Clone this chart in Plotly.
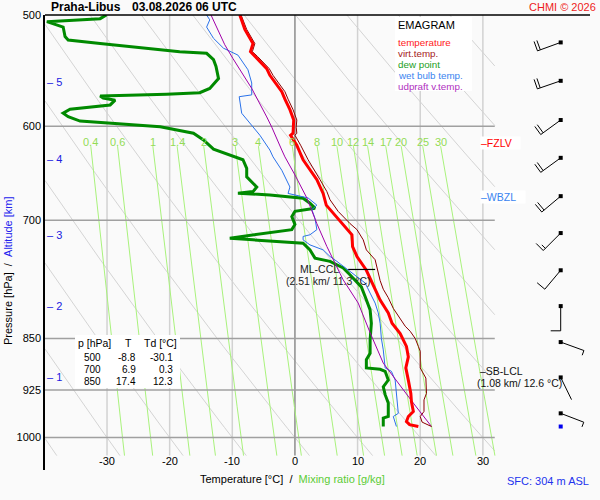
import math
import numpy as np
import plotly.graph_objects as go

# ---------------- data ----------------
temp_p = [500, 512, 524, 531, 535, 546, 552, 567, 574, 584, 594, 601, 607, 609, 619, 631, 634, 655, 670, 683,
          694, 707, 717, 731, 743, 760, 774, 786, 798, 815, 829, 843, 852, 861, 876, 892, 910, 930, 943, 958,
          966, 974, 979, 982]
temp_t = [-8.8, -8.0, -6.7, -7.1, -6.4, -4.5, -4.0, -2.1, -1.6, -0.8, -0.2, -0.3, -0.3, -0.7, 0.3, 1.1, 1.3, 3.5, 4.5, 5.0,
          6.4, 8.0, 9.1, 9.2, 9.9, 11.4, 12.2, 13.0, 13.6, 14.9, 15.5, 16.8, 17.3, 17.8, 18.1, 17.7, 18.1, 18.5, 18.6, 18.9,
          18.1, 17.8, 18.3, 19.7]

virt_p = [500, 512, 524, 531, 535, 546, 552, 567, 574, 584, 594, 601, 607, 609, 619, 631, 634, 655, 668, 677,
          690, 704, 711, 723, 735, 747, 773, 784, 795, 809, 823, 833, 840, 850, 861, 868, 892, 903, 907, 930,
          940, 958, 966, 975, 982]
virt_t = [-8.6, -7.7, -6.4, -6.8, -6.0, -4.1, -3.5, -1.6, -1.1, -0.3, 0.3, 0.2, 0.3, 0.0, 0.9, 1.8, 2.1, 4.0, 5.1, 5.6,
          6.9, 8.8, 9.9, 10.9, 11.4, 12.8, 13.6, 14.1, 14.9, 15.7, 16.8, 17.6, 18.4, 19.2, 19.7, 20.0, 20.0, 20.6, 20.9, 21.0,
          20.6, 20.6, 20.0, 20.3, 21.8]

dew_p = [500, 503, 505.5, 510, 518, 521, 524, 529.5, 531, 532.4, 538, 544, 555, 564, 568, 569.4, 571, 573, 575, 579.5,
         583.6, 587.4, 590.7, 595, 600.5, 607, 613.7, 623, 629, 634, 643, 652, 663, 668, 669.7, 671.6, 675.3, 680.8, 686.4, 690,
         696, 705, 711, 713, 717, 721, 723, 727, 735, 745, 749, 757, 765, 772, 781, 793.5, 811, 829, 852, 871,
         880, 892, 894, 897, 910, 920, 932, 945, 966, 968.5, 982]
dew_t = [-30.1, -31.1, -39.6, -37.0, -36.7, -36.2, -31.1, -20.5, -18.4, -14.1, -13.0, -12.6, -12.2, -13.6, -15.2, -20.5, -31.1, -30.6, -28.7, -29.5,
         -35.9, -37.0, -36.2, -34.3, -21.5, -16.2, -14.6, -13.0, -10.4, -8.3, -7.7, -7.7, -6.1, -6.7, -9.1, -4.0, 1.3, 2.4, 3.2, 0.0,
         -0.5, 0.0, -0.5, -2.4, -6.7, -10.4, -6.7, 1.3, 2.4, 3.2, 5.6, 7.7, 8.7, 9.6, 10.6, 11.2, 12.0, 12.2, 12.0, 12.0,
         11.4, 11.4, 13.6, 14.4, 14.9, 14.1, 14.4, 14.9, 14.9, 14.1, 14.1]

wet_p = [500, 504, 510, 519.5, 528, 534, 547, 559, 570, 571.7, 587.4, 599, 609, 624, 631, 645, 652, 663, 670, 675,
         683, 688, 698, 711, 717, 719, 723, 729, 735, 743, 749, 755, 764, 776, 789, 802, 815, 829, 850, 866,
         892, 897, 910, 932, 961, 966, 982]
wet_t = [-14.1, -13.6, -14.1, -13.0, -11.4, -9.1, -7.5, -6.9, -6.9, -8.9, -8.5, -6.9, -5.6, -4.0, -3.5, -2.1, -1.6, -0.8, -1.1, 2.1,
         3.5, 2.7, 3.2, 3.5, 2.4, 1.3, 1.3, 2.4, 4.5, 5.6, 6.7, 7.7, 9.3, 11.2, 12.0, 12.8, 13.3, 13.6, 13.8, 14.1,
         14.4, 15.4, 16.0, 16.2, 16.5, 15.7, 16.2]

upd_p = [500, 525, 537, 564, 591, 601, 624, 631, 650, 675, 704, 731, 764, 772, 802, 842, 885, 919, 945, 982]
upd_t = [-13.4, -11.2, -9.9, -6.9, -4.5, -3.7, -2.1, -1.6, 0.0, 1.9, 3.5, 5.1, 7.2, 7.7, 10.1, 12.0, 14.1, 16.8, 18.9, 21.8]

wind_p = [523, 557, 594, 632, 673, 715, 760, 806, 855, 906, 961]
wind_dir = [250, 251, 234, 234, 230, 225, 220, 180, 110, 154, 111]
wind_spd = [20, 20, 20, 20, 20, 15, 10, 10, 5, 2, 5]
sfc_p = 982

alt_km = [1, 2, 3, 4, 5]
alt_p = [906, 806, 717, 633, 558]

table_p = [500, 700, 850]
table_t = [-8.8, 6.9, 17.4]
table_td = [-30.1, 0.3, 12.3]

mix_ratios = [0.4, 0.6, 1, 1.4, 2, 3, 4, 6, 8, 10, 12, 14, 17, 20, 25, 30]
mix_labels = ["0.4", "0.6", "1", "1.4", "2", "3", "4", "6", "8", "10", "12", "14", "17", "20", "25", "30"]
theta_c = list(range(-40, 110, 10))
iso_t = [-30, -20, -10, 0, 10, 20, 30]
iso_labels = ["-30", "-20", "-10", "0", "10", "20", "30"]
p_lines = [600, 700, 850, 925, 1000]
p_ticks = [500, 600, 700, 850, 925, 1000]

fzlv_p = 616.7
wbzl_p = 673.8
ccl_p = 759
ccl_line_t = [8.5, 12.8]
sblcl_p = 896

# ---------------- layout constants ----------------
W, H = 600, 500
ML, MR, MT, MB = 45, 5, 15, 30
PW, PH = W - ML - MR, H - MT - MB
T_MIN, T_MAX_AX = -39.9, 47.9
T_MAX_GRID = 31.9
P_TOP, P_BOT = 500.0, 1054.6
P_GRID_BOT = 1030.0
PX_T = PW / (T_MAX_AX - T_MIN)
PX_LNP = PH / math.log(P_BOT / P_TOP)
KAPPA = 0.286


def px_T(x):
    return T_MIN + (x - ML) / PX_T


def px_p(y):
    return P_TOP * math.exp((y - MT) / PX_LNP)


def ly(p):
    return math.log10(p)


def paper_x(x):
    return (x - ML) / PW


def paper_y(y):
    return (H - MB - y) / PH


def td_from_w(w, p):
    e = w * p / (622.0 + w)
    a = math.log(e / 6.112)
    return 243.5 * a / (17.67 - a)


FONT = "Liberation Sans, Arial, sans-serif"
fig = go.Figure()


def add_line(x, y, color, width):
    fig.add_trace(go.Scatter(x=x, y=y, mode="lines", hoverinfo="skip", showlegend=False,
                             line=dict(color=color, width=width)))


# dry adiabats
for th in theta_c:
    thk = th + 273.15
    p_lo = max(P_TOP, 1000 * ((T_MIN + 273.15) / thk) ** (1 / KAPPA))
    p_hi = min(P_GRID_BOT, 1000 * ((T_MAX_GRID + 273.15) / thk) ** (1 / KAPPA))
    if p_lo >= p_hi:
        continue
    pp = np.geomspace(p_lo, p_hi, 40)
    tt = thk * (pp / 1000.0) ** KAPPA - 273.15
    add_line(tt, pp, "#d4d4d4", 1)

# isotherms
for t in iso_t:
    add_line([t, t], [P_TOP, P_GRID_BOT], "#8c8c8c" if t == 0 else "#d2d2d2", 1.5)

# mixing ratio lines
for w in mix_ratios:
    pp = np.geomspace(620, P_GRID_BOT, 20)
    tt = [td_from_w(w, p) for p in pp]
    add_line(tt, pp, "#a9f27c", 1)

# isobars
for p in p_lines:
    add_line([T_MIN, T_MAX_GRID], [p, p], "#a0a0a0", 1.5)


# white boxes (legend, table)
def white_box(x0, x1, y0, y1):
    xs = [px_T(x0), px_T(x1), px_T(x1), px_T(x0), px_T(x0)]
    ys = [px_p(y0), px_p(y0), px_p(y1), px_p(y1), px_p(y0)]
    fig.add_trace(go.Scatter(x=xs, y=ys, mode="lines", fill="toself", fillcolor="white",
                             line=dict(width=0, color="white"), hoverinfo="skip", showlegend=False))


white_box(395, 472, 17, 91)
white_box(75, 180, 335, 388)

# profiles
add_line(dew_t, dew_p, "#008a00", 3)
add_line(wet_t, wet_p, "#2a72ea", 1)
add_line(upd_t, upd_p, "#a000a8", 1)
add_line(virt_t, virt_p, "#8b0000", 1)
add_line(temp_t, temp_p, "#ff0000", 3)

# CCL marker line
add_line(ccl_line_t, [ccl_p, ccl_p], "#000000", 1.2)

# wind barbs
BARB_X = px_T(560.7)
SHAFT = 24.7
FULL, HALF, GAP = 10.0, 5.0, 3.0
bx, by = [], []
for p0, d, s in zip(wind_p, wind_dir, wind_spd):
    r = math.radians(d)
    sx, sy = math.sin(r), -math.cos(r)
    qx, qy = -sy, sx

    def pt(dx, dy):
        return BARB_X + dx / PX_T, p0 * math.exp(dy / PX_LNP)

    a = pt(0, 0)
    b = pt(SHAFT * sx, SHAFT * sy)
    bx += [a[0], b[0], None]
    by += [a[1], b[1], None]
    nfull = int(s // 10)
    nhalf = 1 if (s % 10) >= 5 else 0
    k = 0
    for L in [FULL] * nfull + [HALF] * nhalf:
        d0 = SHAFT - k * GAP
        c0 = pt(d0 * sx, d0 * sy)
        c1 = pt(d0 * sx + L * qx, d0 * sy + L * qy)
        bx += [c0[0], c1[0], None]
        by += [c0[1], c1[1], None]
        k += 1
fig.add_trace(go.Scatter(x=bx, y=by, mode="lines", line=dict(color="black", width=1),
                         hoverinfo="skip", showlegend=False))
fig.add_trace(go.Scatter(x=[BARB_X] * len(wind_p), y=wind_p, mode="markers",
                         marker=dict(symbol="square", size=4, color="black"),
                         hoverinfo="skip", showlegend=False))
fig.add_trace(go.Scatter(x=[BARB_X], y=[sfc_p], mode="markers",
                         marker=dict(symbol="square", size=4, color="#0000ee"),
                         hoverinfo="skip", showlegend=False))

# ---------------- annotations ----------------
ann = []


def text(t, x, y, color="black", size=11, xanchor="left", bold=False, bg=None, angle=0, paper=False):
    a = dict(text=("<b>%s</b>" % t) if bold else t, x=x, y=y,
             xref="paper" if paper else "x", yref="paper" if paper else "y",
             showarrow=False, xanchor=xanchor, yanchor="middle",
             font=dict(family=FONT, size=size, color=color), borderpad=0, textangle=angle)
    if bg:
        a["bgcolor"] = bg
    ann.append(a)


# title (outside the plot area -> paper coordinates)
text("Praha-Libus", paper_x(50), paper_y(7), size=12, bold=True, paper=True)
text("03.08.2026 06 UTC", paper_x(131), paper_y(7), size=12, bold=True, paper=True)
text("CHMI \u00a9 2026", paper_x(597), paper_y(7), color="#ee1c1c", size=11, xanchor="right", paper=True)

# legend
text("EMAGRAM", px_T(397), ly(px_p(25)), size=11)
leg = [("temperature", "#ff1a1a"), ("virt.temp.", "#a52222"), ("dew point", "#22a022"),
       ("wet bulb temp.", "#3a84f0"), ("udpraft v.temp.", "#b030c0")]
for i, (t, c) in enumerate(leg):
    text(t, px_T(397), ly(px_p(42 + 11.2 * i)), color=c, size=9.8)

# mixing-ratio labels
for w, lab in zip(mix_ratios, mix_labels):
    text(lab, td_from_w(w, 620), ly(px_p(142)), color="#93dc55", size=11, xanchor="center")

# altitude markers
for k, p in zip(alt_km, alt_p):
    text("\u2013 %d" % k, px_T(46), ly(p), color="#2020e0", size=11)

# freezing / wet-bulb-zero levels
text("\u2013FZLV\u00a0\u00a0\u00a0", px_T(480), ly(fzlv_p), color="#ff0000", size=10.5, bg="white")
text("\u2013WBZL\u00a0\u00a0\u00a0", px_T(480), ly(wbzl_p), color="#3a84f0", size=10.5, bg="white")

# CCL / LCL
text("ML-CCL", px_T(299), ly(ccl_p), color="#222222", size=10.5)
text("(2.51 km/ 11.3 \u00b0C)", px_T(328), ly(px_p(281)), color="#222222", size=10.5, xanchor="center")
text("\u2013SB-LCL", px_T(479), ly(sblcl_p), color="#111111", size=10.5)
text("(1.08 km/ 12.6 \u00b0C)", paper_x(519), paper_y(383), color="#111111", size=10.5,
     xanchor="center", paper=True)

# table
text("p [hPa]", px_T(77), ly(px_p(343)), size=10.5)
text("T", px_T(128), ly(px_p(343)), size=10.5, xanchor="center")
text("Td [\u00b0C]", px_T(143), ly(px_p(343)), size=10.5)
for i, (p, t, td) in enumerate(zip(table_p, table_t, table_td)):
    yy = ly(px_p(357 + 12 * i))
    text("%d" % p, px_T(102), yy, size=10, xanchor="right")
    text("%.1f" % t, px_T(137), yy, size=10, xanchor="right")
    text("%.1f" % td, px_T(174), yy, size=10, xanchor="right")

# x tick labels (drawn just above the bottom of the grid)
for t, lab in zip(iso_t, iso_labels):
    text(lab, t, ly(px_p(461)), size=11, xanchor="center")

# axis titles
text("Pressure [hPa]\u00a0\u00a0/\u00a0\u00a0<span style='color:#2222ee'>Altitude [km]</span>",
     paper_x(8), paper_y(271), size=11, xanchor="center", angle=-90, paper=True)
text("Temperature [\u00b0C]\u00a0\u00a0/\u00a0\u00a0<span style='color:#5ccc36'>Mixing ratio [g/kg]</span>",
     paper_x(292), paper_y(479), size=11, xanchor="center", paper=True)
text("SFC: 304 m ASL", paper_x(590), paper_y(481), color="#2233ee", size=11, xanchor="right", paper=True)

fig.update_layout(
    width=W, height=H, autosize=False,
    margin=dict(l=ML, r=MR, t=MT, b=MB, pad=0),
    paper_bgcolor="#fafafa", plot_bgcolor="#fafafa",
    showlegend=False,
    font=dict(family=FONT, size=11, color="black"),
    annotations=ann,
    shapes=[dict(type="line", xref="x", yref="paper", x0=T_MIN, x1=px_T(590), y0=1, y1=1,
                 line=dict(color="black", width=1.5))],
    xaxis=dict(range=[T_MIN, T_MAX_AX], showticklabels=False, ticks="", showgrid=False,
               zeroline=False, showline=False, automargin=False, fixedrange=True),
    yaxis=dict(type="log", range=[ly(P_BOT), ly(P_TOP)], tickvals=p_ticks,
               ticktext=[str(p) for p in p_ticks], ticks="", showgrid=False, zeroline=False,
               showline=True, linecolor="black", linewidth=1.5, automargin=False,
               tickfont=dict(size=11, color="black"), fixedrange=True),
)

fig.write_html("out.html", config={"displayModeBar": False},
               post_script="document.body.style.margin='0px';document.body.style.background='#fafafa';")
